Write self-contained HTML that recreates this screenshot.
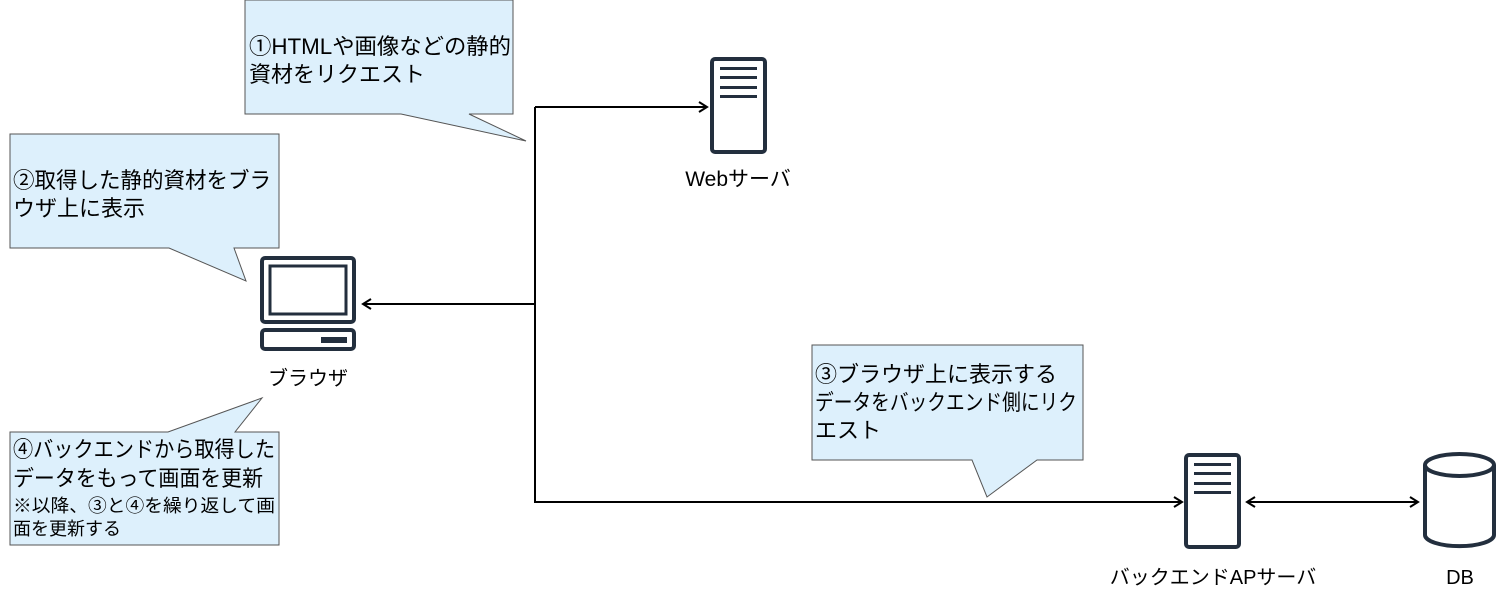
<!DOCTYPE html>
<html><head><meta charset="utf-8"><style>
html,body{margin:0;padding:0;background:#fff;}
svg{display:block;}
text{font-family:"Liberation Sans","Noto Sans CJK JP",sans-serif;fill:#000;}
</style></head><body>
<svg width="1500" height="603" viewBox="0 0 1500 603" xmlns="http://www.w3.org/2000/svg">
<defs>
<marker id="a" markerWidth="12" markerHeight="12" refX="10" refY="6" orient="auto" markerUnits="userSpaceOnUse">
<path d="M2,1 L10,6 L2,11" fill="none" stroke="#000" stroke-width="2"/>
</marker>
<marker id="b" markerWidth="12" markerHeight="12" refX="2" refY="6" orient="auto" markerUnits="userSpaceOnUse">
<path d="M10,1 L2,6 L10,11" fill="none" stroke="#000" stroke-width="2"/>
</marker>
</defs>
<path d="M535,107 L535,502 L1182,502" fill="none" stroke="#000" stroke-width="2" marker-end="url(#a)"/>
<path d="M535,107 L707,107" fill="none" stroke="#000" stroke-width="2" marker-end="url(#a)"/>
<path d="M535,304 L363,304" fill="none" stroke="#000" stroke-width="2" marker-end="url(#a)"/>
<path d="M1247,502 L1418,502" fill="none" stroke="#000" stroke-width="2" marker-start="url(#b)" marker-end="url(#a)"/>

<path d="M245,0 L513,0 L513,114 L469,114 L526,141 L401,114 L245,114 Z" fill="#ddf0fc" stroke="#555" stroke-width="1"/>
<text x="249" y="54" font-size="22" textLength="262" lengthAdjust="spacingAndGlyphs">①HTMLや画像などの静的</text>
<text x="249" y="82" font-size="22">資材をリクエスト</text>
<path d="M10,134 L279,134 L279,248 L234,248 L246,281 L169,248 L10,248 Z" fill="#ddf0fc" stroke="#555" stroke-width="1"/>
<text x="13" y="188" font-size="22" textLength="258" lengthAdjust="spacingAndGlyphs">②取得した静的資材をブラ</text>
<text x="13" y="216" font-size="22">ウザ上に表示</text>
<path d="M812,345 L1083,345 L1083,460 L1037,460 L987,497 L972,460 L812,460 Z" fill="#ddf0fc" stroke="#555" stroke-width="1"/>
<text x="815" y="382" font-size="22">③ブラウザ上に表示する</text>
<text x="815" y="410" font-size="22" textLength="262" lengthAdjust="spacingAndGlyphs">データをバックエンド側にリク</text>
<text x="815" y="438" font-size="22">エスト</text>
<path d="M10,432 L168,432 L262,398 L235,432 L279,432 L279,545 L10,545 Z" fill="#ddf0fc" stroke="#555" stroke-width="1"/>
<text x="13" y="457" font-size="22" textLength="262" lengthAdjust="spacingAndGlyphs">④バックエンドから取得した</text>
<text x="13" y="486" font-size="22" textLength="250" lengthAdjust="spacingAndGlyphs">データをもって画面を更新</text>
<text x="13" y="512" font-size="18" textLength="262" lengthAdjust="spacingAndGlyphs">※以降、③と④を繰り返して画</text>
<text x="13" y="535" font-size="18">面を更新する</text>

<rect x="262" y="258" width="92" height="64" rx="3" fill="none" stroke="#232f3e" stroke-width="4"/>
<rect x="270" y="266" width="76" height="48" fill="none" stroke="#232f3e" stroke-width="3"/>
<rect x="262" y="330" width="92" height="19" rx="3" fill="none" stroke="#232f3e" stroke-width="4"/>
<rect x="321" y="337" width="26" height="6" fill="#232f3e"/>
<text x="308" y="385" font-size="20" text-anchor="middle">ブラウザ</text>

<rect x="712" y="59" width="53" height="93" rx="3" fill="none" stroke="#232f3e" stroke-width="4"/>
<rect x="720" y="67" width="37" height="3" fill="#232f3e"/>
<rect x="720" y="76" width="37" height="3" fill="#232f3e"/>
<rect x="720" y="86" width="37" height="3" fill="#232f3e"/>
<rect x="720" y="95" width="37" height="3" fill="#232f3e"/>
<text x="738" y="186" font-size="21" text-anchor="middle">Webサーバ</text>

<rect x="1186" y="455" width="53" height="92" rx="3" fill="none" stroke="#232f3e" stroke-width="4"/>
<rect x="1194" y="463" width="37" height="3" fill="#232f3e"/>
<rect x="1194" y="472" width="37" height="3" fill="#232f3e"/>
<rect x="1194" y="482" width="37" height="3" fill="#232f3e"/>
<rect x="1194" y="491" width="37" height="3" fill="#232f3e"/>
<text x="1213" y="584" font-size="20" text-anchor="middle">バックエンドAPサーバ</text>

<path d="M1425,465 L1425,535 A34,11 0 0 0 1494,535 L1494,465" fill="none" stroke="#232f3e" stroke-width="4"/>
<ellipse cx="1459.5" cy="465" rx="34.5" ry="11" fill="none" stroke="#232f3e" stroke-width="4"/>
<text x="1460" y="584" font-size="20" text-anchor="middle">DB</text>
</svg>
</body></html>
